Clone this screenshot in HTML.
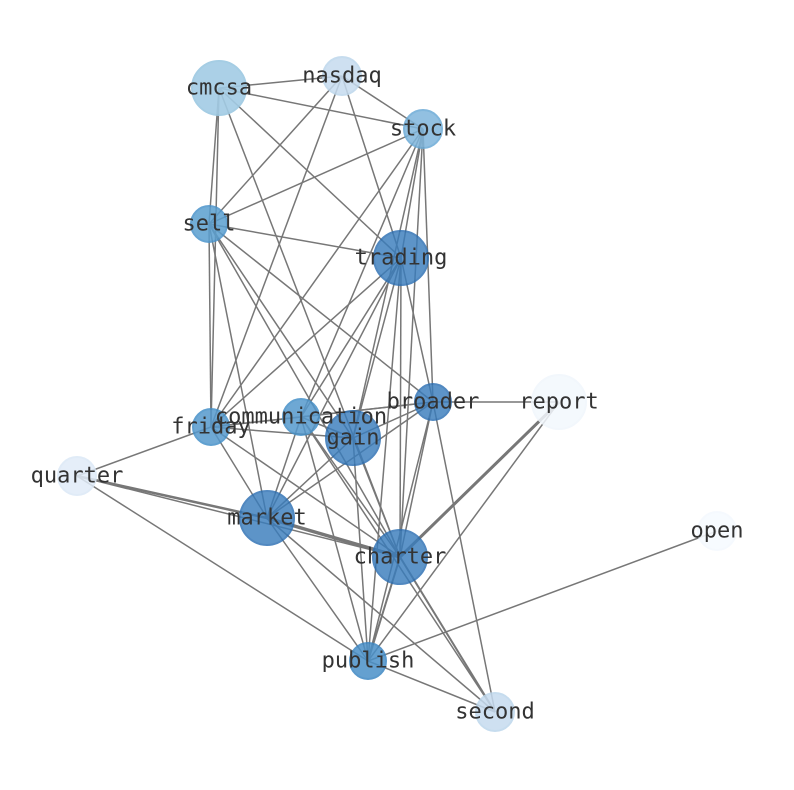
<!DOCTYPE html>
<html><head><meta charset="utf-8"><style>body{margin:0;background:#fff}svg{display:block}</style></head><body>
<svg width="794" height="790" xmlns="http://www.w3.org/2000/svg">
<g stroke="#777" stroke-width="1.5" fill="none">
<line x1="219" y1="88" x2="342" y2="76"/><line x1="219" y1="88" x2="423" y2="129"/>
<line x1="219" y1="88" x2="209" y2="224"/><line x1="219" y1="88" x2="211" y2="427"/>
<line x1="219" y1="88" x2="401" y2="258"/><line x1="219" y1="88" x2="400" y2="557"/>
<line x1="342" y1="76" x2="423" y2="129"/><line x1="342" y1="76" x2="209" y2="224"/>
<line x1="342" y1="76" x2="211" y2="427"/><line x1="342" y1="76" x2="401" y2="258"/>
<line x1="423" y1="129" x2="209" y2="224"/><line x1="423" y1="129" x2="401" y2="258"/>
<line x1="423" y1="129" x2="211" y2="427"/><line x1="423" y1="129" x2="433" y2="402"/>
<line x1="423" y1="129" x2="353" y2="438"/><line x1="423" y1="129" x2="400" y2="557"/>
<line x1="423" y1="129" x2="301" y2="417"/>
<line x1="209" y1="224" x2="401" y2="258"/><line x1="209" y1="224" x2="211" y2="427"/>
<line x1="209" y1="224" x2="267" y2="518"/><line x1="209" y1="224" x2="433" y2="402"/>
<line x1="209" y1="224" x2="400" y2="557"/><line x1="209" y1="224" x2="353" y2="438"/>
<line x1="401" y1="258" x2="211" y2="427"/><line x1="401" y1="258" x2="301" y2="417"/>
<line x1="401" y1="258" x2="353" y2="438"/><line x1="401" y1="258" x2="267" y2="518"/>
<line x1="401" y1="258" x2="400" y2="557"/><line x1="401" y1="258" x2="433" y2="402"/>
<line x1="401" y1="258" x2="368" y2="661"/>
<line x1="433" y1="402" x2="559" y2="402"/><line x1="433" y1="402" x2="211" y2="427"/>
<line x1="433" y1="402" x2="301" y2="417"/><line x1="433" y1="402" x2="353" y2="438"/>
<line x1="433" y1="402" x2="267" y2="518"/><line x1="433" y1="402" x2="400" y2="557"/>
<line x1="433" y1="402" x2="368" y2="661"/><line x1="433" y1="402" x2="495" y2="712"/>
<line x1="559" y1="402" x2="368" y2="661"/>
<line x1="559" y1="402" x2="400" y2="557" stroke-width="3"/>
<line x1="211" y1="427" x2="301" y2="417"/><line x1="211" y1="427" x2="353" y2="438"/>
<line x1="211" y1="427" x2="77" y2="476"/><line x1="211" y1="427" x2="400" y2="557"/>
<line x1="211" y1="427" x2="267" y2="518"/>
<line x1="301" y1="417" x2="353" y2="438"/><line x1="301" y1="417" x2="267" y2="518"/>
<line x1="301" y1="417" x2="400" y2="557"/><line x1="301" y1="417" x2="368" y2="661"/>
<line x1="301" y1="417" x2="495" y2="712"/>
<line x1="353" y1="438" x2="267" y2="518"/><line x1="353" y1="438" x2="400" y2="557"/>
<line x1="353" y1="438" x2="368" y2="661"/>
<line x1="77" y1="476" x2="267" y2="518" stroke-width="2.5"/><line x1="77" y1="476" x2="400" y2="557"/>
<line x1="77" y1="476" x2="368" y2="661"/>
<line x1="267" y1="518" x2="400" y2="557" stroke-width="3.5"/><line x1="267" y1="518" x2="368" y2="661"/>
<line x1="267" y1="518" x2="495" y2="712"/>
<line x1="400" y1="557" x2="368" y2="661" stroke-width="2"/><line x1="400" y1="557" x2="495" y2="712" stroke-width="2"/>
<line x1="368" y1="661" x2="495" y2="712"/><line x1="368" y1="661" x2="717" y2="531"/>
</g>
<g stroke-width="2">
<circle cx="219" cy="88" r="27" fill="#a3cce5" stroke="#9cc8e2" opacity="0.9"/>
<circle cx="342" cy="76" r="19" fill="#c6dbef" stroke="#bdd7ec" opacity="0.85"/>
<circle cx="423" cy="129" r="19" fill="#7fb6dc" stroke="#6aaad6" opacity="0.85"/>
<circle cx="209" cy="224" r="18" fill="#5a9fd0" stroke="#4b94cb" opacity="0.85"/>
<circle cx="401" cy="258" r="27" fill="#3a7dbc" stroke="#2b6fb3" opacity="0.82"/>
<circle cx="433" cy="402" r="18" fill="#3a7dbc" stroke="#2b6fb3" opacity="0.82"/>
<circle cx="559" cy="402" r="27" fill="#f3f8fd" stroke="#f0f6fc" opacity="0.85"/>
<circle cx="211" cy="427" r="18" fill="#5599cd" stroke="#4590c8" opacity="0.85"/>
<circle cx="301" cy="417" r="18" fill="#5599cd" stroke="#4590c8" opacity="0.85"/>
<circle cx="353" cy="438" r="27" fill="#3a7dbc" stroke="#2b6fb3" opacity="0.82"/>
<circle cx="77" cy="476" r="19" fill="#e1ecf8" stroke="#dbe8f6" opacity="0.85"/>
<circle cx="267" cy="518" r="27" fill="#3a7dbc" stroke="#2b6fb3" opacity="0.82"/>
<circle cx="400" cy="557" r="27" fill="#3a7dbc" stroke="#2b6fb3" opacity="0.82"/>
<circle cx="717" cy="531" r="19" fill="#f7fbff" stroke="#f5f9fe" opacity="0.9"/>
<circle cx="368" cy="661" r="18" fill="#4a90c8" stroke="#3d87c3" opacity="0.85"/>
<circle cx="495" cy="712" r="19" fill="#c6dbef" stroke="#bdd7ec" opacity="0.85"/>
</g>
<g font-family="DejaVu Sans Mono, Liberation Mono, monospace" font-size="22" fill="#333" text-anchor="middle" dominant-baseline="central">
<text x="219" y="88">cmcsa</text><text x="342" y="76">nasdaq</text><text x="423" y="129">stock</text>
<text x="209" y="224">sell</text><text x="401" y="258">trading</text><text x="433" y="402">broader</text>
<text x="559" y="402">report</text><text x="211" y="427">friday</text><text x="301" y="417">communication</text>
<text x="353" y="438">gain</text><text x="77" y="476">quarter</text><text x="267" y="518">market</text>
<text x="400" y="557">charter</text><text x="717" y="531">open</text><text x="368" y="661">publish</text>
<text x="495" y="712">second</text>
</g>
</svg>
</body></html>
